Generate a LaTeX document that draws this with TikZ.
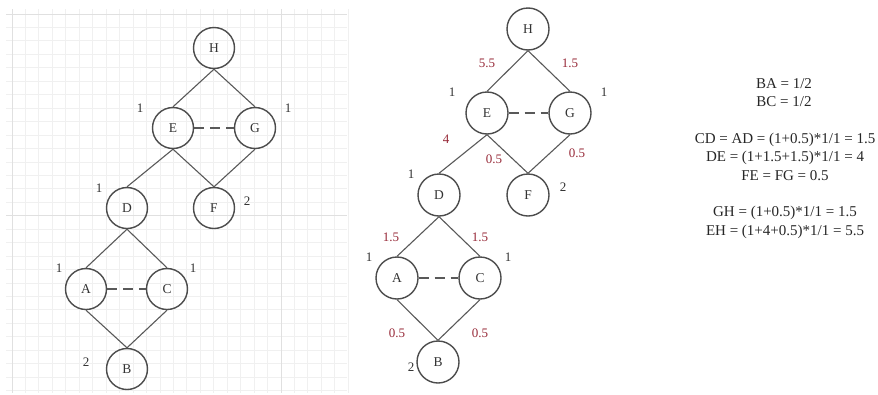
\documentclass[tikz,border=0pt]{standalone}
\usepackage{fontspec}
\setmainfont{Liberation Serif}
\begin{document}
\begin{tikzpicture}[x=1pt,y=-1pt,
  vtx/.style={circle,draw=black!70,line width=1.4pt,minimum size=41pt,inner sep=0pt,font=\fontsize{13.5}{15}\selectfont,text=black!80},
  edge/.style={draw=black!65,line width=1.1pt},
  dedge/.style={draw=black!65,line width=1.1pt,dash pattern=on 10pt off 6pt},
  wlab/.style={font=\fontsize{13}{15}\selectfont,text=black!80},
  rlab/.style={font=\fontsize{13}{15}\selectfont,text={rgb,255:red,150;green,40;blue,55}},
  eq/.style={font=\fontsize{15}{18}\selectfont,text=black!85,align=center}]
\useasboundingbox (0,0) rectangle (878,394);
% grid
\foreach \i in {0,...,25} {\draw[black!6,line width=0.9pt] ({12+13.45*\i},9) -- ({12+13.45*\i},393);}
\foreach \j in {0,...,28} {\draw[black!6,line width=0.9pt] (6,{14+13.45*\j}) -- (347,{14+13.45*\j});}
\draw[black!12,line width=1pt] (12,9) -- (12,393);
\draw[black!12,line width=1pt] (281,9) -- (281,393);
\draw[black!12,line width=1pt] (6,14) -- (347,14);
\draw[black!12,line width=1pt] (6,215) -- (347,215);
% left graph
\node[vtx] (lH) at (214,48) {H};
\node[vtx] (lE) at (173,128) {E};
\node[vtx] (lG) at (255,128) {G};
\node[vtx] (lD) at (127,208) {D};
\node[vtx] (lF) at (214,208) {F};
\node[vtx] (lA) at (86,289) {A};
\node[vtx] (lC) at (167,289) {C};
\node[vtx] (lB) at (127,369) {B};
\draw[edge] (lH.south) -- (lE.north);
\draw[edge] (lH.south) -- (lG.north);
\draw[edge] (lE.south) -- (lD.north);
\draw[edge] (lE.south) -- (lF.north);
\draw[edge] (lG.south) -- (lF.north);
\draw[edge] (lD.south) -- (lA.north);
\draw[edge] (lD.south) -- (lC.north);
\draw[edge] (lA.south) -- (lB.north);
\draw[edge] (lC.south) -- (lB.north);
\draw[dedge] (lE.east) -- (lG.west);
\draw[dedge] (lA.east) -- (lC.west);
\node[wlab] (l1) at (140,108) {1};
\node[wlab] (l2) at (288,108) {1};
\node[wlab] (l3) at (99,188) {1};
\node[wlab] (l4) at (247,201) {2};
\node[wlab] (l5) at (59,268) {1};
\node[wlab] (l6) at (193,268) {1};
\node[wlab] (l7) at (86,362) {2};
% middle graph
\node[vtx,minimum size=42pt] (mH) at (528,29) {H};
\node[vtx,minimum size=42pt] (mE) at (487,113) {E};
\node[vtx,minimum size=42pt] (mG) at (570,113) {G};
\node[vtx,minimum size=42pt] (mD) at (439,195) {D};
\node[vtx,minimum size=42pt] (mF) at (528,195) {F};
\node[vtx,minimum size=42pt] (mA) at (397,278) {A};
\node[vtx,minimum size=42pt] (mC) at (480,278) {C};
\node[vtx,minimum size=42pt] (mB) at (438,362) {B};
\draw[edge] (mH.south) -- (mE.north);
\draw[edge] (mH.south) -- (mG.north);
\draw[edge] (mE.south) -- (mD.north);
\draw[edge] (mE.south) -- (mF.north);
\draw[edge] (mG.south) -- (mF.north);
\draw[edge] (mD.south) -- (mA.north);
\draw[edge] (mD.south) -- (mC.north);
\draw[edge] (mA.south) -- (mB.north);
\draw[edge] (mC.south) -- (mB.north);
\draw[dedge] (mE.east) -- (mG.west);
\draw[dedge] (mA.east) -- (mC.west);
\node[wlab] (m1) at (452,92) {1};
\node[wlab] (m2) at (604,92) {1};
\node[wlab] (m3) at (411,174) {1};
\node[wlab] (m4) at (563,187) {2};
\node[wlab] (m5) at (369,257) {1};
\node[wlab] (m6) at (508,257) {1};
\node[wlab] (m7) at (411,367) {2};
\node[rlab] (r1) at (487,63) {5.5};
\node[rlab] (r2) at (570,63) {1.5};
\node[rlab] (r3) at (446,139) {4};
\node[rlab] (r4) at (494,159) {0.5};
\node[rlab] (r5) at (577,153) {0.5};
\node[rlab] (r6) at (391,237) {1.5};
\node[rlab] (r7) at (480,237) {1.5};
\node[rlab] (r8) at (397,333) {0.5};
\node[rlab] (r9) at (480,333) {0.5};
% equations
\node[eq] (q1) at (784,84) {BA = 1/2};
\node[eq] (q2) at (784,102) {BC = 1/2};
\node[eq] (q3) at (785,140) {CD = AD = (1+0.5)*1/1 = 1.5};
\node[eq] (q4) at (785,158) {DE = (1+1.5+1.5)*1/1 = 4};
\node[eq] (q5) at (785,176) {FE = FG = 0.5};
\node[eq] (q6) at (785,213) {GH = (1+0.5)*1/1 = 1.5};
\node[eq] (q7) at (785,232) {EH = (1+4+0.5)*1/1 = 5.5};
\end{tikzpicture}
\end{document}
